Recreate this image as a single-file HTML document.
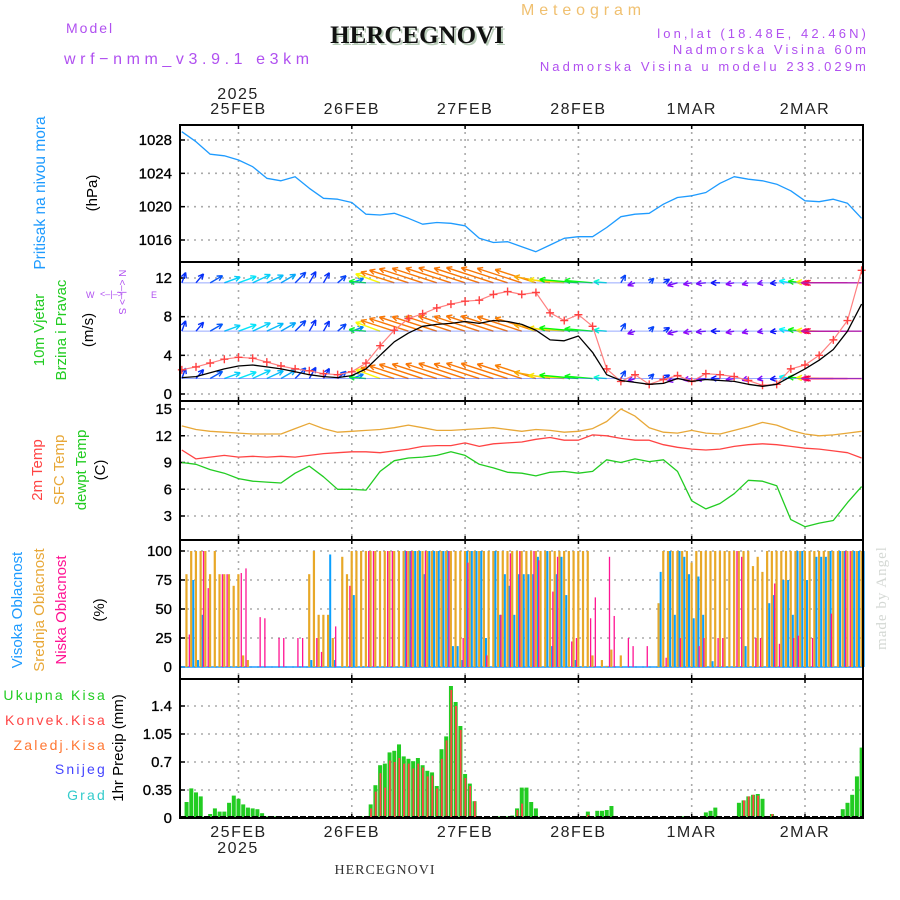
<!DOCTYPE html>
<html><head><meta charset="utf-8"><style>
body{margin:0;background:#fff;}
svg{display:block;font-family:"Liberation Sans",sans-serif;}
</style></head><body>
<svg id="c" width="900" height="900" viewBox="0 0 900 900" xmlns="http://www.w3.org/2000/svg">
<rect width="900" height="900" fill="#fff"/>
<text x="66" y="33" font-size="14" fill="#b050f0" letter-spacing="2">Model</text>
<text x="64" y="64" font-size="16" fill="#b050f0" letter-spacing="4.6">wrf−nmm_v3.9.1 e3km</text>
<text x="419" y="45" font-size="25" font-weight="bold" font-family="Liberation Serif,serif" fill="#b8ccb8" text-anchor="middle">HERCEGNOVI</text>
<text x="417" y="43" font-size="25" font-weight="bold" font-family="Liberation Serif,serif" fill="#111" text-anchor="middle">HERCEGNOVI</text>
<text x="521" y="15" font-size="16" fill="#f0c070" letter-spacing="4.9">Meteogram</text>
<text x="869" y="38" font-size="13" fill="#b050f0" text-anchor="end" letter-spacing="3.1">lon,lat (18.48E, 42.46N)</text>
<text x="869" y="54" font-size="13" fill="#b050f0" text-anchor="end" letter-spacing="3.1">Nadmorska Visina 60m</text>
<text x="869" y="71" font-size="13" fill="#b050f0" text-anchor="end" letter-spacing="3.1">Nadmorska Visina u modelu 233.029m</text>
<text x="238" y="99" font-size="16" fill="#222" text-anchor="middle" letter-spacing="1.5">2025</text>
<text x="238" y="853" font-size="16" fill="#222" text-anchor="middle" letter-spacing="1.5">2025</text>
<text x="385" y="874" font-size="14" font-family="Liberation Serif,serif" fill="#333" text-anchor="middle" letter-spacing="1">HERCEGNOVI</text>
<text transform="translate(886,598) rotate(-90)" font-size="15" font-family="Liberation Serif,serif" fill="#d4d8d4" text-anchor="middle" letter-spacing="1">made by Angel</text>
<!-- left labels -->
<text transform="translate(45,193) rotate(-90)" font-size="15.5" fill="#1e9bff" text-anchor="middle">Pritisak na nivou mora</text>
<text transform="translate(97,193) rotate(-90)" font-size="15" fill="#000" text-anchor="middle">(hPa)</text>
<text transform="translate(44,330) rotate(-90)" font-size="15" fill="#22cc22" text-anchor="middle">10m Vjetar</text>
<text transform="translate(66,330) rotate(-90)" font-size="15" fill="#22cc22" text-anchor="middle">Brzina i Pravac</text>
<text transform="translate(93,330) rotate(-90)" font-size="15" fill="#000" text-anchor="middle">(m/s)</text>
<g fill="#b050f0" font-size="9">
<text x="86" y="298">W</text><text x="151" y="298">E</text>
<text transform="translate(119,292) rotate(90)" text-anchor="middle" font-size="10">N &lt;–|–&gt; S</text>
<text x="100" y="297" font-size="9">&lt;–|–&gt;</text>
</g>
<text transform="translate(42,470) rotate(-90)" font-size="15" fill="#ff4444" text-anchor="middle">2m Temp</text>
<text transform="translate(64,470) rotate(-90)" font-size="15" fill="#e8a838" text-anchor="middle">SFC Temp</text>
<text transform="translate(86,470) rotate(-90)" font-size="15" fill="#22cc22" text-anchor="middle">dewpt Temp</text>
<text transform="translate(105,470) rotate(-90)" font-size="15" fill="#000" text-anchor="middle">(C)</text>
<text transform="translate(22,610) rotate(-90)" font-size="15" fill="#1e9bff" text-anchor="middle">Visoka Oblacnost</text>
<text transform="translate(44,610) rotate(-90)" font-size="15" fill="#e8a838" text-anchor="middle">Srednja Oblacnost</text>
<text transform="translate(66,610) rotate(-90)" font-size="15" fill="#ff1493" text-anchor="middle">Niska Oblacnost</text>
<text transform="translate(104,610) rotate(-90)" font-size="15" fill="#000" text-anchor="middle">(%)</text>
<g font-size="14" text-anchor="end" letter-spacing="2.2">
<text x="107" y="700" fill="#22cc22">Ukupna Kisa</text>
<text x="107" y="725" fill="#ff4444">Konvek.Kisa</text>
<text x="107" y="750" fill="#ff7733">Zaledj.Kisa</text>
<text x="107" y="774" fill="#4444ff">Snijeg</text>
<text x="107" y="800" fill="#33cccc">Grad</text>
</g>
<text transform="translate(123,748) rotate(-90)" font-size="15" fill="#000" text-anchor="middle">1hr Precip (mm)</text>
<g id="plot"></g>
</svg>
<script>
// ---- data ----
const dayLabels = ["25FEB","26FEB","27FEB","28FEB","1MAR","2MAR"];
const pressure = [1029,1027.8,1026.3,1026.1,1025.6,1024.8,1023.4,1023.1,1023.6,1022.2,1021,1020.9,1020.5,1019.1,1019,1019.2,1018.6,1017.9,1018.1,1018,1017.7,1016.2,1015.7,1015.8,1015.2,1014.6,1015.4,1016.2,1016.4,1016.4,1017.5,1018.8,1019.1,1019.2,1020.3,1021.1,1021.3,1021.7,1022.8,1023.6,1023.3,1023.1,1022.7,1021.9,1020.7,1020.6,1020.9,1020.4,1018.6];
const windSpeed = [1.7,1.8,2.2,2.6,2.9,3.0,2.8,2.6,2.3,2.0,1.8,1.7,1.9,2.6,4.0,5.4,6.3,7.0,7.2,7.3,7.5,7.3,7.6,7.5,7.2,6.6,5.6,5.5,6.0,4.3,2.0,1.4,1.2,1.0,1.1,1.6,1.3,1.5,1.4,1.3,1.0,0.8,1.0,1.8,2.6,3.5,4.6,6.5,9.3];
const windGust = [2.5,2.8,3.2,3.6,3.8,3.7,3.3,2.9,2.6,2.4,2.1,2.0,2.3,3.2,5.0,6.6,7.8,8.3,8.9,9.3,9.6,9.7,10.3,10.6,10.3,10.5,8.4,7.6,8.2,7.0,2.6,1.3,2.0,1.0,1.5,1.9,1.3,2.1,2.0,1.8,1.4,0.9,1.0,2.6,3.0,4.0,5.6,7.6,12.8];
const windDir = [70,50,30,20,20,25,25,30,45,60,60,40,20,175,160,162,162,162,162,162,162,162,162,162,162,162,170,175,175,175,175,60,200,45,30,195,190,185,180,190,195,190,185,170,175,178,180,180,180];
const windHue = [230,230,220,190,185,190,195,200,225,230,230,225,210,130,60,30,28,28,28,28,28,28,28,28,28,30,40,55,120,125,170,225,270,225,230,270,275,270,240,275,275,270,240,180,120,60,0,340,330];
const sfcTemp = [13.1,12.7,12.5,12.4,12.3,12.2,12.2,12.2,12.8,13.4,12.8,12.4,12.5,12.6,12.7,12.9,13.2,12.9,12.6,12.6,12.7,12.8,12.9,12.7,12.5,12.7,12.6,12.4,12.5,12.8,13.6,15.0,14.2,12.9,12.4,12.3,12.6,12.3,12.2,12.6,13.0,13.5,13.2,12.6,12.2,12.0,12.1,12.3,12.5];
const temp2m = [10.4,9.4,9.6,9.8,9.6,9.7,9.6,9.7,9.6,9.8,10.0,10.1,10.2,10.2,10.1,10.3,10.5,10.8,10.9,10.9,11.2,10.8,11.1,11.2,11.3,11.6,11.8,11.5,11.5,12.1,12.0,11.7,11.5,11.5,11.0,10.7,10.5,10.4,10.5,10.8,11.0,11.1,11.0,10.8,10.6,10.5,10.3,10.1,9.5];
const dewpt = [9.0,8.8,8.2,7.8,7.2,6.9,6.8,6.7,7.8,8.6,7.4,6.0,6.0,5.9,8.0,9.2,9.5,9.6,9.8,10.2,9.8,8.8,8.4,7.9,7.8,7.5,7.9,8.0,7.8,8.0,9.3,9.0,9.4,9.1,9.3,8.0,4.7,3.8,4.4,5.5,7.0,6.9,6.4,2.6,1.8,2.2,2.5,4.5,6.3];
const cloudHigh = [0,0,75,6,45,0,0,0,0,0, 0,0,0,0,0,0,0,0,0,0, 0,0,0,0,0,0,0,6,0,0, 0,97,6,0,0,0,62,0,0,0, 0,0,0,0,0,0,0,100,100,100,
 100,80,100,100,100,100,100,18,18,6, 100,100,100,100,25,0,100,45,80,70, 45,80,80,80,80,95,0,100,18,80, 95,62,0,6,0,0,0,0,0,0, 0,0,0,0,0,0,0,0,0,0,
 0,82,0,100,45,100,95,80,42,78, 45,0,5,0,0,0,0,0,0,18, 0,0,0,0,55,62,0,75,75,45, 100,100,75,0,95,95,95,100,0,100, 100,0,100,100,100];
const cloudMid = [0,80,100,100,100,100,80,100,80,80, 80,70,80,10,6,0,0,0,0,0, 0,0,0,0,0,0,0,80,100,45, 45,45,25,0,95,80,100,100,100,100,
 100,100,100,100,100,100,100,100,100,100, 100,100,100,100,100,100,100,100,100,100, 100,100,100,100,100,100,100,100,100,100, 100,100,100,100,100,100,100,100,100,100,
 100,100,100,100,100,100,100,10,0,6, 1,15,0,10,0,0,0,0,0,0, 0,55,100,100,100,100,100,100,90,100, 100,100,100,100,100,100,100,100,100,100,
 100,87,95,82,100,100,100,100,100,100, 100,100,100,100,100,100,100,100,100,100, 100,100,100,100,100];
const cloudLow = [0,0,28,0,0,100,68,0,0,80, 80,0,0,81,85,0,0,43,42,0, 0,25,25,0,0,25,25,0,0,25, 13,0,0,35,0,0,70,0,0,0, 100,100,0,0,100,100,0,0,100,100,
 0,0,100,0,0,0,0,100,0,0, 25,90,0,0,0,10,0,0,45,0, 98,0,100,0,0,100,92,0,0,65, 95,0,0,22,25,0,0,42,60,0, 0,95,44,0,0,25,18,0,0,18,
 0,0,0,8,0,0,25,0,0,0, 18,25,0,0,25,25,0,0,100,95, 0,0,25,25,0,0,72,20,0,0, 25,27,0,0,25,0,0,0,46,0, 0,100,100,0,0];
const precipTotal = [0,0.2,0.37,0.32,0.27,0.02,0.05,0.12,0.08,0.08, 0.19,0.28,0.24,0.17,0.13,0.12,0.11,0.06,0.02,0.01, 0.02,0,0,0,0,0,0,0,0,0, 0,0,0,0,0,0,0,0,0.02,0.02,
 0.17,0.41,0.66,0.68,0.82,0.84,0.92,0.77,0.74,0.71, 0.75,0.66,0.59,0.57,0.4,0.86,1.02,1.65,1.45,1.15, 0.55,0.43,0.21,0,0,0,0,0.02,0,0.02, 0.03,0.12,0.38,0.38,0.2,0.12,0.02,0,0,0,
 0,0,0,0,0,0,0.08,0.02,0.09,0.09, 0.1,0.15,0,0,0,0,0,0,0,0, 0,0,0,0,0,0,0.02,0.01,0,0, 0.01,0.07,0.09,0.13,0.01,0.01,0,0.01,0.19,0.22,
 0.27,0.29,0.3,0.24,0,0.05,0,0,0,0, 0,0,0,0,0,0,0,0,0,0, 0.11,0.19,0.29,0.52,0.88];
const precipConv = [0,0,0,0,0,0,0,0,0,0, 0,0,0,0,0,0,0,0,0,0, 0,0,0,0,0,0,0,0,0,0, 0,0,0,0,0,0,0,0,0,0,
 0.12,0.33,0.56,0.38,0.72,0.7,0.75,0.68,0.68,0.62, 0.68,0.63,0.52,0.53,0.37,0.74,0.97,1.6,1.4,1.1, 0.5,0.4,0.21,0,0,0,0,0,0,0, 0,0.1,0.18,0,0,0,0,0,0,0,
 0,0,0,0,0,0,0.04,0,0,0, 0,0,0,0,0,0,0,0,0,0, 0,0,0,0,0,0,0,0,0,0, 0,0,0,0,0,0,0,0,0,0.22,
 0.27,0.29,0.28,0,0,0.05,0,0,0,0, 0,0,0,0,0,0,0,0,0,0, 0,0,0,0,0];
const pTicks=[1016,1020,1024,1028], wTicks=[0,4,8,12], tTicks=[3,6,9,12,15], cTicks=[0,25,50,75,100], rTicks=[0,0.35,0.7,1.05,1.4];
const rowBase=[1.6,6.5,11.5];

// ---- layout ----
const NS="http://www.w3.org/2000/svg", plot=document.getElementById('plot');
const L=180,R=863;
const X=t=>238.5+(t-24)*113.3/24;
const t3=i=>12+3*i, th=i=>12+i;
const yP=v=>140+(1028-v)*100/12;
const yW=v=>394-v*116/12;
const yT=v=>409+(15-v)*107/12;
const yC=v=>667-v*1.16;
const yR=v=>818-v*112/1.4;
function el(tag,attrs,parent){const e=document.createElementNS(NS,tag);for(const k in attrs)e.setAttribute(k,attrs[k]);(parent||plot).appendChild(e);return e;}
const panels=[[125,262,pTicks,yP],[262,401,wTicks,yW],[401,540,tTicks,yT],[540,679,cTicks,yC],[679,818,rTicks,yR]];
const grid=el('g',{});


panels.forEach(([top,bot,ticks,fy],pi)=>{
  dayLabels.forEach((d,k)=>{const x=X(24+24*k);
    const g=el('line',{x1:x,x2:x,y1:top,y2:bot,stroke:'#aaa','stroke-width':1.6,'stroke-dasharray':'2,5'},grid);
    
    
    el('line',{x1:x,x2:x,y1:top,y2:top+4,stroke:'#000','stroke-width':1.5},grid);
    el('line',{x1:x,x2:x,y1:bot,y2:bot-4,stroke:'#000','stroke-width':1.5},grid);
  });
  ticks.forEach(v=>{const y=fy(v);
    const g=el('line',{x1:L,x2:R,y1:y,y2:y,stroke:'#aaa','stroke-width':1.6,'stroke-dasharray':'2,5'},grid);
    
    
    el('line',{x1:L,x2:L+5,y1:y,y2:y,stroke:'#000','stroke-width':1.5},grid);
    const tx=el('text',{x:172,y:y+5,'font-size':15,'text-anchor':'end',fill:'#000',stroke:'#000','stroke-width':0.3},grid);
    tx.textContent=v;
    
    
  });
});
dayLabels.forEach((d,k)=>{const x=X(24+24*k);
  const a=el('text',{x:x,y:114,'font-size':16,'text-anchor':'middle',fill:'#222','letter-spacing':1.5});a.textContent=d;
  
  
  const b=el('text',{x:x,y:837,'font-size':16,'text-anchor':'middle',fill:'#222','letter-spacing':1.5});b.textContent=d;
  
  
});
function poly(arr,fy,color,name,w){const pts=arr.map((v,i)=>X(t3(i)).toFixed(1)+','+fy(v).toFixed(1)).join(' ');
  const p=el('polyline',{points:pts,fill:'none',stroke:color,'stroke-width':w||1.3,'stroke-linejoin':'round'});
  
  
  return p;}
// pressure
poly(pressure,yP,'#1e9bff','pressure-line');
// wind arrows
const wg=el('g',{});


rowBase.forEach(b=>{
  windDir.forEach((a,i)=>{const x0=X(t3(i)),y0=yW(b),len=windSpeed[i]*6.5,r=a*Math.PI/180;
    const x1=x0+len*Math.cos(r),y1=y0-len*Math.sin(r),col='hsl('+windHue[i]+',95%,50%)';
    const ar=el('path',{d:'M'+x0+','+y0+'L'+x1+','+y1+
      'M'+x1+','+y1+'L'+(x1-6*Math.cos(r-0.45))+','+(y1+6*Math.sin(r-0.45))+
      'M'+x1+','+y1+'L'+(x1-6*Math.cos(r+0.45))+','+(y1+6*Math.sin(r+0.45)),stroke:col,'stroke-width':1.4,fill:'none'},wg);
    
    
  });
  el('line',{x1:X(t3(0)),x2:X(t3(48)),y1:yW(b),y2:yW(b),stroke:'#3355ff','stroke-width':1,opacity:0.5},wg);
});
poly(windGust,yW,'#ff8080','gust-line',1.2);
const gm=el('g',{});


windGust.forEach((v,i)=>{const x=X(t3(i)),y=yW(v);
  const m=el('path',{d:'M'+(x-4)+','+y+'h8M'+x+','+(y-4)+'v8',stroke:'#ff4040','stroke-width':1.4},gm);
  
  
});
poly(windSpeed,yW,'#000','wind-speed-line',1.3);
// temps
poly(sfcTemp,yT,'#e8a838','sfc-temp-line');
poly(temp2m,yT,'#ff4444','temp-2m-line');
poly(dewpt,yT,'#22cc22','dewpt-line');
// clouds
const cg=el('g',{});


el('line',{x1:L,x2:R,y1:yC(0),y2:yC(0),stroke:'#1e9bff','stroke-width':1.5},cg);
cloudMid.forEach((v,i)=>{if(!v)return;const x=X(th(i));
  const r=el('rect',{x:x-1.2,y:yC(v),width:2.2,height:yC(0)-yC(v),fill:'#e8a828'},cg);
  
  });
cloudHigh.forEach((v,i)=>{if(!v)return;const x=X(th(i));
  const r=el('rect',{x:x+1,y:yC(v),width:2,height:yC(0)-yC(v),fill:'#0aa0ff'},cg);
  
  });
cloudLow.forEach((v,i)=>{if(!v)return;const x=X(th(i));
  const r=el('rect',{x:x-2.6,y:yC(v),width:1.3,height:yC(0)-yC(v),fill:'#ff1493'},cg);
  
  });
// precip
const pg=el('g',{});


precipTotal.forEach((v,i)=>{if(!v)return;const x=X(th(i));
  const r=el('rect',{x:x-2,y:yR(v),width:4,height:yR(0)-yR(v),fill:'#22cc22'},pg);
  
  });
precipConv.forEach((v,i)=>{if(!v)return;const x=X(th(i));
  const r=el('rect',{x:x-0.6,y:yR(v),width:1.8,height:yR(0)-yR(v),fill:'#ff4444'},pg);
  
  });
el('line',{x1:L,x2:R,y1:817,y2:817,stroke:'#000','stroke-width':2,'stroke-dasharray':'6,2'},pg);
// frames
panels.forEach(([top,bot],pi)=>{const f=el('rect',{x:L,y:top,width:R-L,height:bot-top,fill:'none',stroke:'#000','stroke-width':2});
  
  });
</script>
</body></html>
